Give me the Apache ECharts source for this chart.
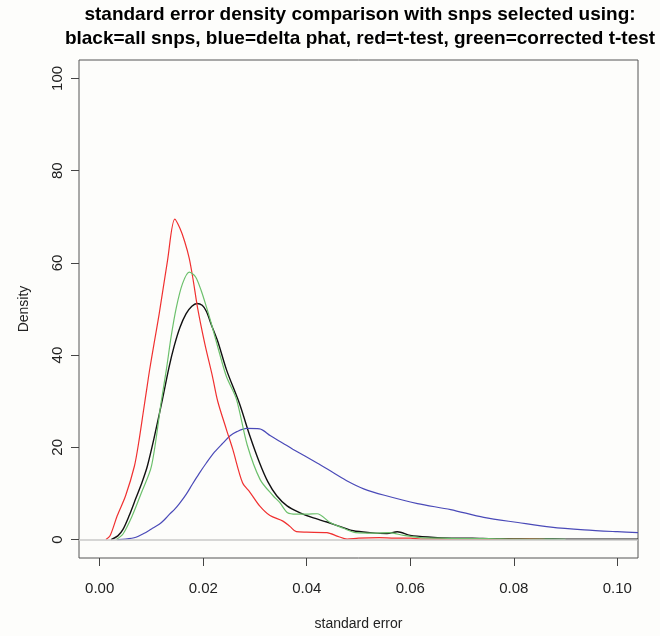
<!DOCTYPE html>
<html>
<head>
<meta charset="utf-8">
<script src="https://cdn.jsdelivr.net/npm/echarts@6.0.0/dist/echarts.min.js"></script>
<style>
  html, body { margin: 0; padding: 0; background: #fdfdfb; }
  #chart { width: 660px; height: 636px; }
</style>
</head>
<body>
<div id="chart"></div>
<script>
// tick positions
const xTicks = [0, 0.02, 0.04, 0.06, 0.08, 0.10];
const yTicks = [0, 20, 40, 60, 80, 100];

// black = all snps
const allX = [0.0022, 0.0035, 0.0045, 0.0057, 0.007, 0.0082, 0.0092, 0.0105, 0.0121, 0.0134, 0.0144, 0.0155, 0.0167, 0.0178, 0.0188, 0.0198, 0.0206, 0.0216, 0.0228, 0.0245, 0.027, 0.029, 0.0309, 0.0325, 0.0342, 0.0362, 0.0387, 0.041, 0.0439, 0.0465, 0.049, 0.0522, 0.0555, 0.0575, 0.06, 0.064, 0.068, 0.072, 0.076, 0.08, 0.085, 0.09, 0.095, 0.1, 0.104];
const allY = [0, 0.8, 2.2, 5.2, 9, 12.5, 15.9, 22, 30.3, 37.4, 42, 46, 49, 50.6, 51.2, 50.8, 49.5, 46.5, 43, 36.8, 29.5, 22.5, 16.6, 12.5, 9.5, 7.3, 5.8, 4.8, 3.8, 2.8, 1.9, 1.5, 1.3, 1.7, 0.9, 0.5, 0.3, 0.3, 0.2, 0.2, 0.15, 0.1, 0.1, 0.1, 0.1];

// blue = delta phat
const deltaX = [0.0034, 0.005, 0.007, 0.0085, 0.01, 0.0115, 0.0125, 0.0135, 0.0145, 0.0154, 0.0167, 0.0179, 0.0192, 0.0206, 0.0222, 0.0238, 0.0252, 0.0265, 0.0284, 0.0309, 0.033, 0.0354, 0.0373, 0.042, 0.045, 0.048, 0.051, 0.055, 0.0614, 0.0678, 0.0742, 0.0808, 0.0872, 0.0936, 0.1, 0.104];
const deltaY = [0, 0.1, 0.5, 1.3, 2.3, 3.3, 4.3, 5.5, 6.6, 7.8, 9.8, 12, 14.3, 16.6, 19, 20.9, 22.5, 23.4, 24.1, 24, 22.5, 20.9, 19.6, 16.6, 14.6, 12.6, 11, 9.6, 7.8, 6.5, 4.8, 3.7, 2.7, 2.1, 1.7, 1.5];

// red = t-test
const tX = [0.0012, 0.002, 0.0034, 0.005, 0.0067, 0.0076, 0.0084, 0.0092, 0.0096, 0.0105, 0.0115, 0.0131, 0.0145, 0.0155, 0.0164, 0.0173, 0.0181, 0.0189, 0.0203, 0.0218, 0.0228, 0.0245, 0.0257, 0.0276, 0.029, 0.0309, 0.0329, 0.0354, 0.0368, 0.038, 0.04, 0.0439, 0.046, 0.0478, 0.05, 0.054, 0.057, 0.06, 0.062, 0.066, 0.07, 0.075, 0.08, 0.083, 0.086];
const tY = [0, 0.8, 5.2, 9.5, 15.9, 21.5, 27.5, 33.5, 36.5, 42.5, 49, 60.5, 69.5, 67.5, 64.7, 61, 56, 50.3, 42.5, 35.3, 30, 23.8, 19.6, 12.3, 10.3, 7.3, 5.2, 4, 2.8, 1.7, 1.6, 1.5, 0.7, 0.1, 0.3, 0.4, 0.3, 0.3, 0.1, 0.1, 0.1, 0.05, 0.1, 0.15, 0.05];

// green = corrected t-test
const ctX = [0.0032, 0.0045, 0.0063, 0.008, 0.01, 0.0119, 0.0129, 0.0138, 0.0148, 0.016, 0.0173, 0.0185, 0.0196, 0.0206, 0.0216, 0.023, 0.0245, 0.0264, 0.0285, 0.031, 0.0335, 0.0348, 0.0363, 0.038, 0.04, 0.042, 0.0445, 0.047, 0.0495, 0.053, 0.056, 0.0587, 0.062, 0.066, 0.07, 0.075, 0.08, 0.085, 0.09];
const ctY = [0, 1.2, 5.2, 10, 15.9, 30, 37, 44, 50.3, 55.5, 58, 57, 54, 50.5, 46.7, 41, 35.3, 30.5, 20.5, 13, 9.5, 8, 5.8, 5.5, 5.5, 5.6, 3.7, 2.5, 1.5, 1.4, 1.5, 0.9, 0.4, 0.3, 0.2, 0.2, 0.1, 0.1, 0.05];

function pairs(xs, ys) {
  return xs.map((x, i) => [x, ys[i]]);
}

const font = "'Liberation Sans', Arial, sans-serif";
const chart = echarts.init(document.getElementById('chart'), null, { renderer: 'canvas' });

function curve(name, xs, ys, color, width) {
  return {
    name: name,
    type: 'line',
    data: pairs(xs, ys),
    showSymbol: false,
    smooth: 0.3,
    z: 3,
    lineStyle: { color: color, width: width }
  };
}

const option = {
  animation: false,
  backgroundColor: '#fdfdfb',
  title: {
    text: 'standard error density comparison with snps selected using:\nblack=all snps, blue=delta phat, red=t-test, green=corrected t-test',
    left: 360,
    top: 3,
    padding: 0,
    textAlign: 'center',
    textStyle: { fontFamily: font, fontSize: 19, fontWeight: 'bold', color: '#000', lineHeight: 24 }
  },
  grid: {
    left: 79, top: 60, width: 559, height: 503,
    show: true, borderColor: '#555', borderWidth: 1, backgroundColor: 'transparent'
  },
  xAxis: {
    type: 'value',
    min: -0.004, max: 0.104,
    axisLine: { show: false, onZero: false },
    splitLine: { show: false },
    axisTick: { show: true, customValues: xTicks, length: 8, lineStyle: { color: '#444' } },
    axisLabel: { customValues: xTicks, formatter: v => v.toFixed(2), fontFamily: font, fontSize: 15, color: '#222', margin: 23 },
    name: 'standard error',
    nameLocation: 'middle',
    nameGap: 59,
    nameTextStyle: { fontFamily: font, fontSize: 14, color: '#222' }
  },
  yAxis: {
    type: 'value',
    min: -4, max: 104,
    axisLine: { show: false, onZero: false },
    splitLine: { show: false },
    axisTick: { show: true, customValues: yTicks, length: 8, lineStyle: { color: '#444' } },
    axisLabel: { customValues: yTicks, rotate: 90, fontFamily: font, fontSize: 15, color: '#222', margin: 14 },
    name: 'Density',
    nameLocation: 'middle',
    nameGap: 48,
    nameTextStyle: { fontFamily: font, fontSize: 14, color: '#222' }
  },
  series: [
    {
      type: 'line',
      data: [],
      z: 1,
      markLine: {
        silent: true,
        symbol: ['none', 'none'],
        label: { show: false },
        lineStyle: { color: '#c8c8c8', width: 1.5, type: 'solid' },
        data: [{ yAxis: 0 }]
      }
    },
    curve('all snps', allX, allY, '#111111', 1.4),
    curve('delta phat', deltaX, deltaY, '#4a4ab8', 1.2),
    curve('t-test', tX, tY, '#f03030', 1.2),
    curve('corrected t-test', ctX, ctY, '#6cc06c', 1.2)
  ]
};

chart.setOption(option);
</script>
</body>
</html>
